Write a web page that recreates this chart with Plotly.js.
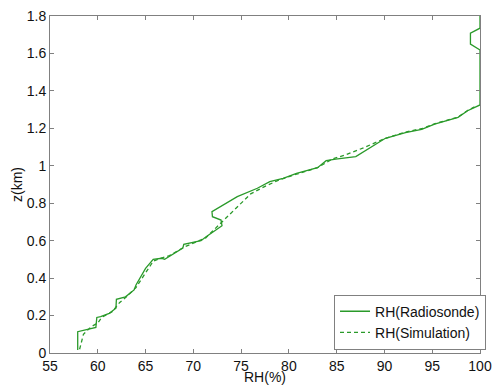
<!DOCTYPE html>
<html>
<head>
<meta charset="utf-8">
<script src="https://cdn.plot.ly/plotly-3.0.1.min.js"></script>
<style>body{margin:0;padding:0;background:#fff}#chart{width:496px;height:385px}</style>
</head>
<body>
<div id="chart"></div>
<script>
// Radiosonde profile: RH (%) vs height z (km)
const radioRH = [57.9, 57.9, 59.8, 59.9, 60.3, 61.2, 61.9, 61.95, 62.9, 63.8, 64.0, 65.0, 65.8, 66.7, 67.0, 68.9, 69.0, 70.8, 71.3, 73.0, 72.9, 72.0, 71.95, 74.6, 76.7, 78.0, 79.4, 80.8, 83.0, 83.9, 84.9, 87.0, 90.1, 92.2, 93.9, 95.25, 97.7, 98.7, 100, 100, 99.0, 99.0, 100, 100];
const radioZ  = [0.016, 0.114, 0.137, 0.19, 0.194, 0.212, 0.239, 0.287, 0.30, 0.337, 0.363, 0.452, 0.50, 0.506, 0.50, 0.56, 0.58, 0.60, 0.62, 0.68, 0.71, 0.728, 0.755, 0.835, 0.88, 0.915, 0.933, 0.96, 0.99, 1.027, 1.035, 1.049, 1.147, 1.177, 1.195, 1.223, 1.259, 1.294, 1.325, 1.618, 1.65, 1.708, 1.735, 1.8];
// Simulation profile
const simRH = [58.1, 58.5, 59.3, 60.0, 60.4, 61.5, 62.3, 63.0, 64.0, 65.0, 65.8, 66.5, 67.5, 69.0, 70.5, 71.3, 72.0, 72.7, 74.5, 76.0, 77.5, 79.0, 80.8, 83.0, 84.5, 86.0, 88.0, 90.0, 92.2, 94.0, 95.3, 97.7, 98.7, 99.6];
const simZ  = [0.02, 0.10, 0.14, 0.16, 0.19, 0.22, 0.27, 0.30, 0.35, 0.43, 0.49, 0.505, 0.52, 0.565, 0.595, 0.615, 0.65, 0.685, 0.78, 0.85, 0.89, 0.925, 0.955, 0.99, 1.035, 1.06, 1.10, 1.145, 1.18, 1.20, 1.225, 1.26, 1.295, 1.32];

const xTicks = [55, 60, 65, 70, 75, 80, 85, 90, 95, 100];
const yTicks = [0, 0.2, 0.4, 0.6, 0.8, 1, 1.2, 1.4, 1.6, 1.8];
const yTickText = ['0', '0.2', '0.4', '0.6', '0.8', '1', '1.2', '1.4', '1.6', '1.8'];

const green = '#2a9a2a';
const traces = [
  {x: radioRH, y: radioZ, type: 'scatter', mode: 'lines', name: 'RH(Radiosonde)',
   line: {color: green, width: 1.3}},
  {x: simRH, y: simZ, type: 'scatter', mode: 'lines', name: 'RH(Simulation)',
   line: {color: green, width: 1.3, dash: '4px,3px'}}
];

const fontFam = 'Liberation Sans, Arial, sans-serif';
const axisCommon = {
  showgrid: false, zeroline: false, showline: true, mirror: 'ticks',
  linecolor: '#808080', linewidth: 1, ticks: 'inside', ticklen: 4, tickcolor: '#808080',
  tickfont: {family: fontFam, size: 14, color: '#111'}
};

const layout = {
  width: 496, height: 385,
  margin: {l: 50, r: 10, t: 16, b: 32},
  paper_bgcolor: '#fff', plot_bgcolor: '#fff',
  showlegend: true,
  xaxis: Object.assign({}, axisCommon, {
    range: [55, 100], tickvals: xTicks, ticktext: xTicks.map(String),
    title: {text: 'RH(%)', standoff: 0, font: {family: fontFam, size: 14, color: '#111'}}
  }),
  yaxis: Object.assign({}, axisCommon, {
    range: [0, 1.8], tickvals: yTicks, ticktext: yTickText,
    title: {text: 'z(km)', standoff: 0, font: {family: fontFam, size: 14, color: '#111'}}
  }),
  legend: {
    x: 1.014, xanchor: 'right', y: 0.01, yanchor: 'bottom',
    bgcolor: '#fff', bordercolor: '#808080', borderwidth: 1,
    font: {family: fontFam, size: 14, color: '#111'},
    itemwidth: 30, tracegroupgap: 0
  }
};

Plotly.newPlot('chart', traces, layout, {displayModeBar: false, staticPlot: true});
</script>
</body>
</html>
